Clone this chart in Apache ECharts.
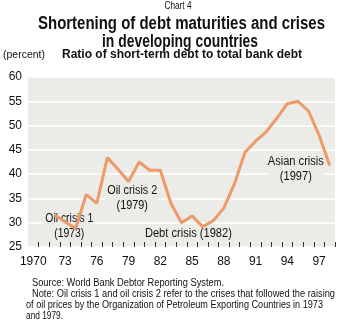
<!DOCTYPE html>
<html><head><meta charset="utf-8">
<script src="https://cdn.jsdelivr.net/npm/echarts@6/dist/echarts.min.js"></script>
<style>html,body{margin:0;padding:0;background:#fff}#c{width:345px;height:326px}</style>
</head><body><div id="c"></div>
<script>
var years = [];
for (var y = 1970; y <= 1998; y++) years.push(String(y));
var tickLabels = {'1970':'1970','1973':'73','1976':'76','1979':'79','1982':'82','1985':'85','1988':'88','1991':'91','1994':'94','1997':'97'};
var ratio = [null, null, 31.6, 30.2, 28.8, 35.8, 34.0, 43.4, 41.0, 38.5, 42.5, 40.8, 40.8, 34.0, 30.0, 31.4, 29.2, 30.4, 33.0, 38.0, 44.5, 46.8, 48.7, 51.5, 54.5, 55.0, 53.0, 48.0, 41.8];
var annTexts = ['Oil crisis 1\n(1973)', 'Oil crisis 2\n(1979)', 'Debt crisis (1982)', 'Asian crisis\n(1997)'];
var annX = [3.4, 9.35, 14.65, 24.8];
var annY = [29.3, 35.0, 27.75, 41.0];

var FN = "'Liberation Sans',Arial,sans-serif";
var mctx = document.createElement('canvas').getContext('2d');
function sx(text, font, target) { mctx.font = font; return target / mctx.measureText(text).width; }
function txt(text, font, x, y, align, target, extra) {
  var s = sx(text.split('\n')[0], font, target);
  var st = {text:text, font:font, fill:'#111', align:align, verticalAlign:'top'};
  if (extra) for (var k in extra) st[k] = extra[k];
  return {type:'text', x:x, y:y, scaleX:s, style:st};
}
var F10 = '10px ' + FN;
var chart = echarts.init(document.getElementById('c'), null, {renderer:'canvas'});
chart.setOption({
  animation:false,
  backgroundColor:'#ffffff',
  textStyle:{fontFamily:FN},
  grid:{left:28,right:10,top:77,bottom:79,show:true,backgroundColor:'#ebece7',borderWidth:0},
  xAxis:{type:'category',data:years,boundaryGap:true,
    axisLine:{show:false},
    axisTick:{show:true,inside:true,length:5,interval:function(i){return i>0;},lineStyle:{color:'#333',width:1}},
    axisLabel:{interval:0,formatter:function(v){return tickLabels[v]||'';},color:'#111',fontSize:12,fontFamily:FN,margin:9},
    splitLine:{show:false}},
  yAxis:{type:'value',min:25,max:60,interval:5,
    axisLine:{show:false},axisTick:{show:false},
    axisLabel:{color:'#111',fontSize:12,fontFamily:FN,margin:6},
    splitLine:{show:true,lineStyle:{color:'#ffffff',width:1.5}}},
  series:[{type:'line',data:ratio,symbol:'none',lineStyle:{color:'#ee9a68',width:3},connectNulls:false}]
});
var g = [
  txt('Chart 4', '11px ' + FN, 178, 0, 'center', 27),
  txt('Shortening of debt maturities and crises', 'bold 18px ' + FN, 181.5, 15, 'center', 287),
  txt('in developing countries', 'bold 18px ' + FN, 180, 33, 'center', 156),
  txt('Ratio of short-term debt to total bank debt', 'bold 13px ' + FN, 182, 48, 'center', 240),
  txt('(percent)', F10, 3, 50, 'left', 42),
  txt('Source: World Bank Debtor Reporting System.', F10, 32, 278, 'left', 192),
  txt('Note: Oil crisis 1 and oil crisis 2 refer to the crises that followed the raising', F10, 32, 289, 'left', 303),
  txt('of oil prices by the Organization of Petroleum Exporting Countries in 1973', F10, 26, 300, 'left', 297),
  txt('and 1979.', F10, 26, 311, 'left', 37)
];
var annW = [48, 50, 87, 56];
for (var i = 0; i < annTexts.length; i++) {
  var i0 = Math.floor(annX[i]), f = annX[i] - i0;
  var p0 = chart.convertToPixel({gridIndex:0}, [i0, annY[i]]);
  var p1 = chart.convertToPixel({gridIndex:0}, [i0 + 1, annY[i]]);
  var px = p0[0] + (p1[0] - p0[0]) * f;
  var e = txt(annTexts[i], '12px ' + FN, px, p0[1], 'center', annW[i], {verticalAlign:'middle', lineHeight:15, backgroundColor:'#ebece7', padding:[0,1]});
  g.push(e);
}
chart.setOption({graphic:g});
</script></body></html>
